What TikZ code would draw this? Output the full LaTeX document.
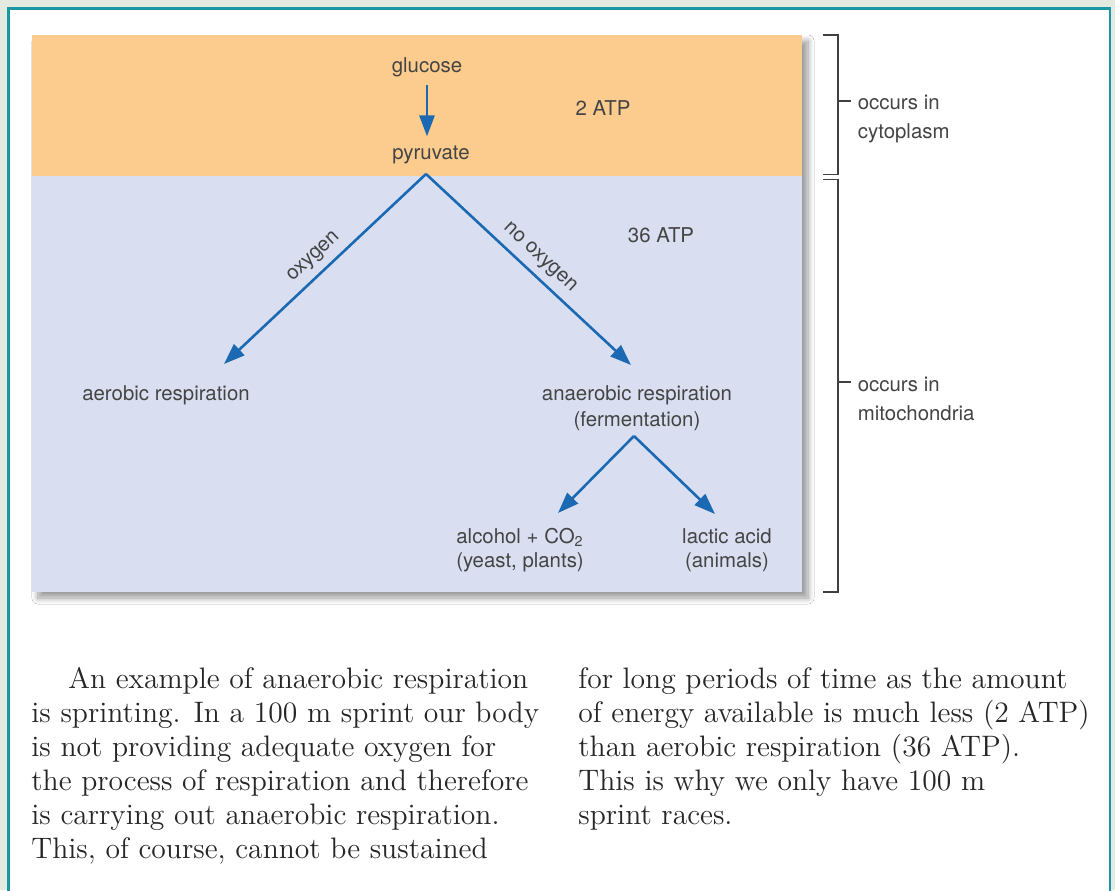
\documentclass[tikz,border=0pt]{standalone}
\usepackage{fontspec}
\setsansfont{TeX Gyre Heros}
\usetikzlibrary{arrows.meta, positioning, calc, shadows.blur}
\definecolor{rsframe}{HTML}{1B97A3}
\definecolor{rsbg}{HTML}{E4EADF}
\definecolor{rsorange}{HTML}{FBCC8E}
\definecolor{rslilac}{HTML}{D9DFF0}
\definecolor{rsblue}{HTML}{1C69B3}
\definecolor{rstext}{HTML}{444444}
\definecolor{rsbody}{HTML}{262626}

\begin{document}
\begin{tikzpicture}[
  x=0.5pt, y=-0.5pt,
  every node/.style={font=\sffamily\fontsize{10.2}{13}\selectfont, text=rstext, inner sep=0pt},
  steplabel/.style={anchor=base},
  twoline/.style={anchor=north, align=center},
  sidelabel/.style={anchor=north west, align=left, font=\sffamily\fontsize{10.2}{14.4}\selectfont},
  flow/.style={draw=rsblue, line width=1.3pt, -{Triangle[length=10.5pt,width=7.5pt]}},
  flowlabel/.style={midway, sloped, above=3.5pt},
  bracket/.style={draw=black!75, line width=0.75pt},
  bodytext/.style={anchor=north west, align=left, font=\rmfamily\fontsize{14.8}{17}\selectfont, text=rsbody},
]
\clip (0,0) rectangle (1115,890);
\fill[rsbg] (0,0) rectangle (1115,890);
\draw[rsframe, line width=1.4pt, fill=white] (8.7,8.7) rectangle (1110,930);

% coloured panel
\fill[rslilac, blur shadow={shadow xshift=3pt, shadow yshift=-3pt, shadow blur radius=3pt, shadow blur steps=10, shadow opacity=40}] (32,35) rectangle (802,592);
\fill[rsorange] (32,35) rectangle (802,176);

% glycolysis
\node[steplabel] (glucose) at (427,72) {glucose};
\node[steplabel] (pyruvate) at (431,159) {pyruvate};
\node[steplabel] (atpTwo) at (603,115) {2 ATP};
\draw[flow, shorten <=4.3pt, shorten >=4.3pt] (glucose) -- (glucose |- pyruvate.north);

% first split
\coordinate (fork1) at (426,174);
\coordinate (toAerobic) at (224,364);
\coordinate (toAnaerobic) at (631,365);
\node[steplabel] (atpThirtySix) at (661,242) {36 ATP};
\node[steplabel] (aerobic) at (166,400) {aerobic respiration};
\node[twoline] (anaerobic) at (637,385.3) {anaerobic respiration\\(fermentation)};
\draw[flow] (fork1) -- node[flowlabel] {oxygen} (toAerobic);
\draw[flow] (fork1) -- node[flowlabel] {no oxygen} (toAnaerobic);

% fermentation products
\coordinate (fork2) at (634,436);
\coordinate (toAlcohol) at (558,513);
\coordinate (toLactic) at (715,514);
\node[twoline, font=\sffamily\fontsize{10.2}{12}\selectfont] (alcohol) at (520,528) {alcohol + CO\textsubscript{2}\\(yeast, plants)};
\node[twoline, font=\sffamily\fontsize{10.2}{12}\selectfont] (lactic) at (727,528) {lactic acid\\(animals)};
\draw[flow] (fork2) -- (toAlcohol);
\draw[flow] (fork2) -- (toLactic);

% location brackets
\draw[bracket] (823,35) -| (838,174.5) -- (823,174.5);
\draw[bracket] (838,101) -- (851,101);
\node[sidelabel] (cytoplasm) at (857.5,94.5) {occurs in\\cytoplasm};
\draw[bracket] (823,179.5) -| (838,592) -- (823,592);
\draw[bracket] (838,382) -- (851,382);
\node[sidelabel] (mitochondria) at (857.5,377) {occurs in\\mitochondria};

% body text
\node[bodytext] (leftcol) at (31,667) {\hspace*{18.5pt}An example of anaerobic respiration\\
is sprinting. In a 100 m sprint our body\\
is not providing adequate oxygen for\\
the process of respiration and therefore\\
is carrying out anaerobic respiration.\\
This, of course, cannot be sustained};
\node[bodytext] (rightcol) at (578,667) {for long periods of time as the amount\\
of energy available is much less (2 ATP)\\
than aerobic respiration (36 ATP).\\
This is why we only have 100 m\\
sprint races.};
\end{tikzpicture}
\end{document}
